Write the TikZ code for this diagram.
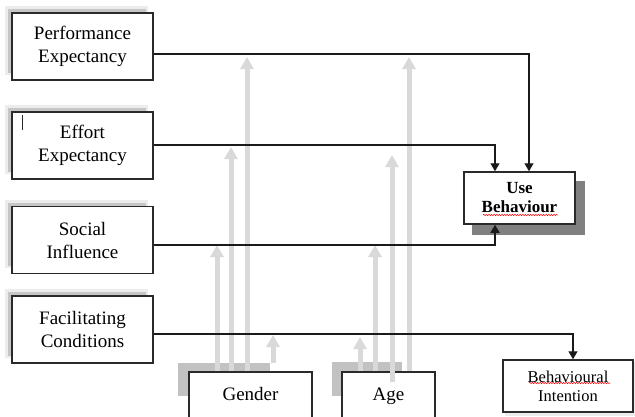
\documentclass[tikz,border=0pt]{standalone}
\usepackage{fontspec}
\setmainfont{Liberation Serif}
\usetikzlibrary{arrows.meta,decorations.pathmorphing,backgrounds}
\definecolor{boxline}{HTML}{2A2A2A}
\definecolor{lineblack}{HTML}{1A1A1A}
\definecolor{modgray}{HTML}{D9D9D9}
\definecolor{shadelight}{HTML}{ECECEC}
\definecolor{shademid}{HTML}{C6C6C6}
\definecolor{shadegray}{HTML}{C2C2C2}
\definecolor{shadedark}{HTML}{808080}
\begin{document}
\begin{tikzpicture}[x=1pt,y=-1pt,
  box/.style={draw=boxline, line width=1.5pt, fill=white, inner sep=0pt, align=center,
    font=\fontsize{19}{23}\selectfont},
  leftbox/.style={box, minimum width=141pt, minimum height=67pt},
  modarrow/.style={draw=modgray, line width=5pt, -{Triangle[width=13pt,length=12pt]}},
  conn/.style={draw=lineblack, line width=1.3pt, -{Triangle[width=9pt,length=8pt]}},
  wavy/.style={draw=red, line width=0.5pt, decorate,
    decoration={snake, amplitude=0.7pt, segment length=2.6pt}}]
\useasboundingbox (0,0) rectangle (635,416);
\clip (0,0) rectangle (635,416);

% boxes
\node[leftbox] (pe) at (82.5,46.5) {Performance\\Expectancy};
\node[leftbox] (ee) at (82.5,145.5) {Effort\\Expectancy};
\node[leftbox] (si) at (82.5,240) {Social\\Influence};
\node[leftbox] (fc) at (82.5,329.5) {Facilitating\\Conditions};
\node[box, minimum width=111pt, minimum height=52pt,
  font=\fontsize{17}{19}\selectfont\bfseries] (ub) at (519.5,198) {Use\\Behaviour};
\node[box, minimum width=130pt, minimum height=52pt,
  font=\fontsize{16.5}{19}\selectfont] (bi) at (568,386) {Behavioural\\Intention};
\node[box, minimum width=123pt, minimum height=48pt] (gender) at (250.5,396) {\raisebox{4pt}{Gender}};
\node[box, minimum width=93pt, minimum height=48pt] (age) at (388.5,396) {\raisebox{4pt}{Age}};

% shadows
\begin{scope}[on background layer]
  \foreach \b in {pe,ee,si,fc}{
    \fill[shadelight] ([shift={(-6,-6)}]\b.north west) rectangle ([shift={(-6,-6)}]\b.south east);
    \fill[shademid] ([shift={(-3,-3)}]\b.north west) rectangle ([shift={(-8,-8)}]\b.south east);
  }
  \fill[shadedark] ([shift={(9,10)}]ub.north west) rectangle ([shift={(9,10)}]ub.south east);
  \fill[shadelight] ([shift={(3,3)}]bi.north west) rectangle ([shift={(3,3)}]bi.south east);
  \fill[shadegray] (178,363) rectangle (270,396);
  \fill[shadegray] (332,362) rectangle (402,396);
\end{scope}

% cursor mark
\draw[boxline, line width=0.6pt] (22,115) -- (22,130);

% moderator arrows
\coordinate (gs) at (273,363);
\coordinate (as) at (392,382);
\coordinate (g1) at (217,245);
\coordinate (g2) at (231,147);
\coordinate (g3) at (247,57);
\coordinate (g4) at (273,335);
\coordinate (a1) at (360,337);
\coordinate (a2) at (375,245);
\coordinate (a3) at (392,155);
\coordinate (a4) at (409,57);
\draw[modarrow] (gender.north -| g1) -- (g1);
\draw[modarrow] (gender.north -| g2) -- (g2);
\draw[modarrow] (gender.north -| g3) -- (g3);
\draw[modarrow] (gs) -- (g4);
\draw[modarrow] (age.north -| a1) -- (a1);
\draw[modarrow] (age.north -| a2) -- (a2);
\draw[modarrow] (as) -- (a3);
\draw[modarrow] (age.north -| a4) -- (a4);

% connectors
\draw[conn] ([yshift=-7.5pt]pe.east) -| ([xshift=9.5pt]ub.north);
\draw[conn] ([yshift=0.5pt]ee.east) -| ([xshift=-24.5pt]ub.north);
\draw[conn] ([yshift=-5pt]si.east) -| ([xshift=-24.5pt]ub.south);
\draw[conn] ([yshift=-4.5pt]fc.east) -| ([xshift=5pt]bi.north);

% spell-check underlines
\draw[wavy] (483,215) -- (558,215);
\draw[wavy] (529,383) -- (610,383);
\end{tikzpicture}
\end{document}
